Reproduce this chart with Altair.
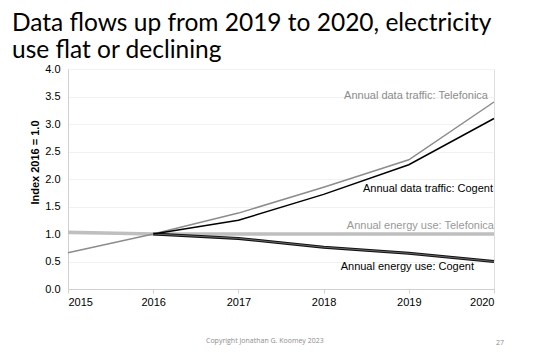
import altair as alt
import pandas as pd

years = [2015, 2016, 2017, 2018, 2019, 2020]
tel_data = [0.66, 1.0, 1.38, 1.85, 2.35, 3.40]
cog_data = [None, 1.0, 1.25, 1.72, 2.26, 3.10]
tel_energy = [1.03, 1.0, 1.0, 1.0, 1.0, 1.0]
cog_energy = [None, 1.0, 0.92, 0.76, 0.65, 0.50]
y_ticks = [0, 0.5, 1, 1.5, 2, 2.5, 3, 3.5, 4]

series_names = [
    "Annual data traffic: Telefonica",
    "Annual data traffic: Cogent",
    "Annual energy use: Telefonica",
    "Annual energy use: Cogent",
]
series_values = [tel_data, cog_data, tel_energy, cog_energy]

rows = []
for name, vals in zip(series_names, series_values):
    for y, v in zip(years, vals):
        if v is not None:
            rows.append({"year": y, "value": v, "series": name})
df = pd.DataFrame(rows)

W, H = 426, 220

x = alt.X("year:Q", scale=alt.Scale(domain=[2015, 2020], nice=False, zero=False),
          axis=alt.Axis(values=years, format="d", title=None, grid=False,
                        tickSize=4, tickColor="#d0d0d0", domainColor="#d0d0d0",
                        labelFontSize=11, labelColor="#000000", labelFont="Liberation Sans",
                        labelPadding=3, labelOverlap=False))
y = alt.Y("value:Q", scale=alt.Scale(domain=[0, 4], nice=False),
          axis=alt.Axis(values=y_ticks, format=".1f",
                        title="Index 2016 = 1.0", titleFontSize=11, titleFont="Liberation Sans",
                        titleFontWeight="bold", titleColor="#000000",
                        titleAngle=270, titleX=-33, titleY=93, titleAlign="center",
                        titleBaseline="middle",
                        grid=True, gridColor="#f2f2f2", ticks=False, labelOverlap=False,
                        domainColor="#d0d0d0", labelFontSize=11, labelColor="#000000",
                        labelFont="Liberation Sans", labelPadding=8))

def sub(name):
    return alt.Chart(df).transform_filter(alt.datum.series == name)

tel_e = sub(series_names[2]).mark_line(color="#bfbfbf", strokeWidth=3.5).encode(x=x, y=y)
cog_e_outer = sub(series_names[3]).mark_line(color="#111111", strokeWidth=3).encode(x=x, y=y)
cog_e_inner = sub(series_names[3]).mark_line(color="#666666", strokeWidth=1).encode(x=x, y=y)
tel_d = sub(series_names[0]).mark_line(color="#8c8c8c", strokeWidth=1.5).encode(x=x, y=y)
cog_d = sub(series_names[1]).mark_line(color="#000000", strokeWidth=1.5).encode(x=x, y=y)

def label(name, color, dx, dy):
    return sub(name).transform_filter(alt.datum.year == 2020).mark_text(
        align="right", baseline="middle", dx=dx, dy=dy, fontSize=11,
        font="Liberation Sans", color=color
    ).encode(x=x, y=y, text="series:N")

labels = [
    label(series_names[0], "#8c8c8c", -6, -6),
    label(series_names[1], "#000000", -1, 70),
    label(series_names[2], "#999999", 0, -8),
    label(series_names[3], "#000000", -20, 5),
]

footer = alt.Chart(pd.DataFrame({"t": ["Copyright Jonathan G. Koomey 2023"]})).mark_text(
    align="left", baseline="alphabetic", fontSize=7, font="Open Sans", color="#8c8c8c"
).encode(x=alt.value(138), y=alt.value(274), text="t:N")
page = alt.Chart(pd.DataFrame({"t": ["27"]})).mark_text(
    align="left", baseline="alphabetic", fontSize=7, font="Open Sans", color="#8c8c8c"
).encode(x=alt.value(428), y=alt.value(276), text="t:N")

chart = alt.layer(tel_e, cog_e_outer, cog_e_inner, tel_d, cog_d, *labels, footer, page).properties(
    width=W, height=H,
    title=alt.TitleParams(
        text=["Data flows up from 2019 to 2020, electricity", "use flat or declining"],
        anchor="start", frame="group", font="Lato", fontSize=24.5, fontWeight="normal",
        color="#000000", lineHeight=27, baseline="alphabetic", offset=14, dx=-56, dy=33,
    ),
    autosize=alt.AutoSizeParams(type="none"),
    padding={"left": 68, "top": 69, "right": 46, "bottom": 64},
).configure_view(stroke=None).configure(background="white")

chart.save("out.html", embed_options={"renderer": "svg", "actions": False})
